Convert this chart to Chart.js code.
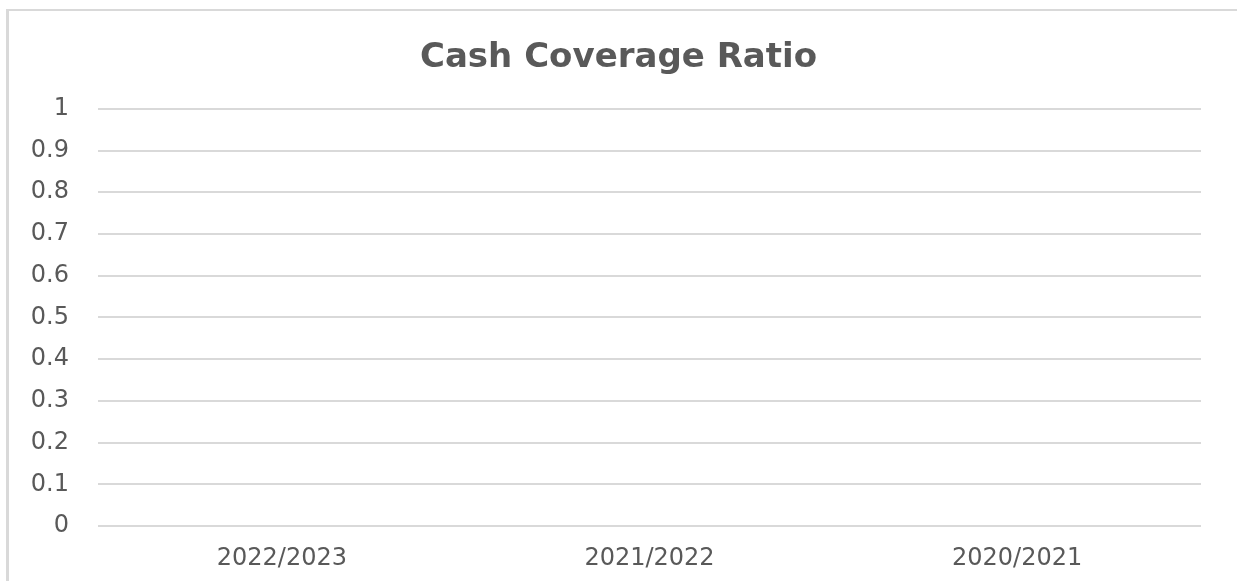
<!DOCTYPE html>
<html>
<head>
<meta charset="utf-8">
<title>Cash Coverage Ratio</title>
<script src="https://cdn.jsdelivr.net/npm/chart.js@4/dist/chart.umd.min.js"></script>
<style>
  html, body {
    margin: 0;
    padding: 0;
    background: #ffffff;
    overflow: hidden;
  }
  .frame {
    position: absolute;
    left: 6px;
    top: 9px;
    width: 1300px;
    height: 700px;
    border-left: 3px solid #d9d9d9;
    border-top: 2px solid #d9d9d9;
  }
  .chart-box {
    position: absolute;
    left: 0;
    top: 0;
    width: 1237px;
    height: 581px;
  }
</style>
</head>
<body>
<div class="frame"></div>
<div class="chart-box">
  <canvas id="ratioChart" width="1237" height="581"></canvas>
</div>
<script>
  // years shown on the x axis
  const years = ["2022/2023", "2021/2022", "2020/2021"];
  // no ratio reported for any year
  const ratioValues = [null, null, null];
  // y axis ticks
  const yTicks = [0, 0.1, 0.2, 0.3, 0.4, 0.5, 0.6, 0.7, 0.8, 0.9, 1];
  const yTickLabels = ["0", "0.1", "0.2", "0.3", "0.4", "0.5", "0.6", "0.7", "0.8", "0.9", "1"];

  const textColor = "#595959";
  const gridColor = "#d9d9d9";

  const ctx = document.getElementById("ratioChart").getContext("2d");

  new Chart(ctx, {
    type: "bar",
    data: {
      labels: years,
      datasets: [
        {
          label: "Cash Coverage Ratio",
          data: ratioValues,
          backgroundColor: "#4472c4",
        },
      ],
    },
    options: {
      responsive: false,
      animation: false,
      layout: {
        padding: 0,
      },
      plugins: {
        legend: { display: false },
        tooltip: { enabled: false },
        title: {
          display: true,
          text: "Cash Coverage Ratio",
          color: textColor,
          font: { family: "DejaVu Sans", size: 34, weight: "bold" },
          padding: { top: 38, bottom: 30 },
        },
      },
      scales: {
        x: {
          grid: { display: false },
          border: { display: false },
          ticks: {
            color: textColor,
            font: { family: "DejaVu Sans", size: 24 },
            padding: 10,
            maxRotation: 0,
          },
          afterFit: (scale) => {
            scale.height = 55;
          },
        },
        y: {
          min: 0,
          max: 1,
          border: { display: false },
          grid: {
            color: gridColor,
            lineWidth: 2,
            drawTicks: false,
          },
          ticks: {
            color: textColor,
            font: { family: "DejaVu Sans", size: 24 },
            padding: 29,
            callback: (value) => {
              const i = yTicks.indexOf(Math.round(value * 10) / 10);
              return i >= 0 ? yTickLabels[i] : "";
            },
          },
          afterBuildTicks: (scale) => {
            scale.ticks = yTicks.map((v) => ({ value: v }));
          },
          afterFit: (scale) => {
            scale.width = 98;
          },
        },
        // empty right-hand margin so the title stays centred on the canvas
        yRight: {
          position: "right",
          display: true,
          grid: { display: false },
          border: { display: false },
          ticks: { display: false },
          afterFit: (scale) => {
            scale.width = 36;
          },
        },
      },
    },
  });
</script>
</body>
</html>
